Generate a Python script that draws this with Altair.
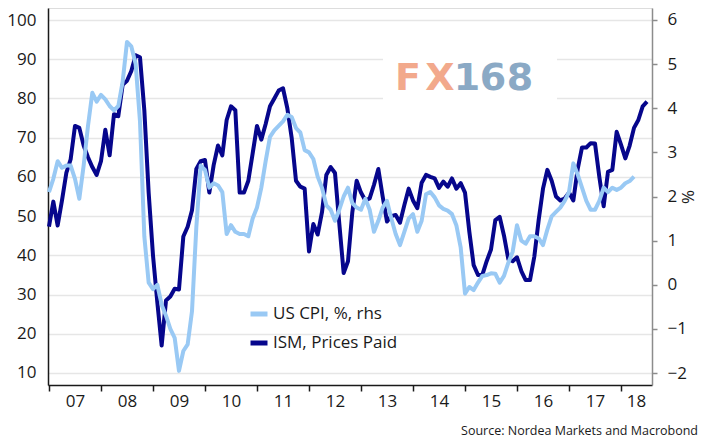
import altair as alt
import pandas as pd

# ---- data (monthly, starting Jan 2007) ----
ism_prices_paid = [
    47.3, 53.7, 47.6, 54.0, 61.0, 64.5, 73.0, 72.5, 68.0, 65.0, 62.5, 60.5,   # 2007
    64.0, 72.0, 65.5, 76.0, 75.5, 83.5, 84.5, 87.0, 91.0, 90.5, 77.0, 56.0,   # 2008
    40.0, 28.0, 17.0, 28.5, 29.5, 31.5, 31.3, 44.8, 47.3, 51.5, 62.0, 64.0,   # 2009
    64.3, 56.0, 63.0, 68.0, 65.5, 74.5, 78.0, 77.0, 56.0, 56.0, 59.0, 66.0,   # 2010
    73.0, 69.5, 73.5, 78.0, 80.0, 82.0, 82.6, 77.5, 70.0, 59.0, 57.5, 57.0,   # 2011
    41.0, 48.0, 45.3, 51.0, 60.5, 62.5, 61.0, 48.0, 35.5, 38.5, 51.0, 59.0,   # 2012
    56.0, 54.0, 54.5, 58.0, 62.0, 55.0, 48.6, 50.0, 50.3, 48.3, 52.8, 57.0,   # 2013
    54.0, 52.0, 58.5, 60.5, 60.0, 59.6, 57.2, 58.8, 57.5, 59.6, 57.0, 58.4,   # 2014
    56.0, 46.0, 37.5, 35.0, 35.0, 38.5, 41.5, 49.0, 49.8, 45.0, 39.0, 38.5,   # 2015
    39.5, 36.0, 33.7, 33.7, 39.7, 49.0, 57.0, 61.8, 59.0, 55.0, 54.0, 54.5,   # 2016
    56.0, 54.0, 62.0, 67.5, 67.5, 68.6, 68.5, 60.0, 52.5, 61.3, 61.8, 71.5,   # 2017
    68.2, 64.7, 68.0, 72.5, 74.5, 78.0, 79.2,                                 # 2018
]
us_cpi = [
    2.1, 2.4, 2.8, 2.65, 2.7, 2.7, 2.4, 1.95, 2.7, 3.6, 4.35, 4.15,           # 2007
    4.3, 4.2, 4.05, 3.95, 4.05, 4.6, 5.5, 5.4, 5.0, 3.7, 1.1, 0.05,           # 2008
    -0.1, 0.0, -0.45, -0.7, -1.0, -1.2, -1.95, -1.5, -1.35, -0.6, 1.3, 2.7,   # 2009
    2.6, 2.2, 2.3, 2.25, 2.1, 1.15, 1.35, 1.2, 1.15, 1.15, 1.1, 1.5,          # 2010
    1.75, 2.2, 2.8, 3.35, 3.5, 3.6, 3.7, 3.85, 3.8, 3.55, 3.45, 3.05,         # 2011
    3.0, 2.85, 2.45, 2.2, 1.8, 1.7, 1.45, 1.7, 2.0, 2.2, 1.85, 1.75,          # 2012
    1.7, 1.95, 1.7, 1.2, 1.45, 1.75, 1.9, 1.5, 1.15, 0.9, 1.2, 1.5,           # 2013
    1.6, 1.2, 1.45, 2.05, 2.1, 1.98, 1.8, 1.72, 1.68, 1.6, 1.35, 0.85,        # 2014
    -0.2, -0.05, -0.12, 0.05, 0.2, 0.22, 0.26, 0.25, 0.05, 0.2, 0.5, 0.75,    # 2015
    1.35, 1.0, 0.93, 1.1, 1.1, 1.05, 0.9, 1.25, 1.55, 1.65, 1.75, 1.9,        # 2016
    2.1, 2.75, 2.5, 2.2, 1.9, 1.7, 1.7, 1.9, 2.2, 2.1, 2.2, 2.15,             # 2017
    2.2, 2.3, 2.35, 2.45,                                                     # 2018
]
series_names = ["US CPI, %, rhs", "ISM, Prices Paid"]
year_ticks = list(range(2007, 2019))
left_ticks = list(range(10, 101, 10))
right_ticks = list(range(-2, 7))
source_text = "Source: Nordea Markets and Macrobond"
watermark_chars = ["F", "X", "1", "6", "8"]
watermark_colors = ["#f2a98c", "#f2a98c", "#8aa9c5", "#8aa9c5", "#8aa9c5"]

LIGHT = "#99c9f4"
DARK = "#06068c"
FONT = "Open Sans"


def month_positions(n):
    return [2007 + i / 12 for i in range(n)]


df = pd.concat([
    pd.DataFrame({"t": month_positions(len(ism_prices_paid)), "v": ism_prices_paid,
                  "series": series_names[1]}),
    pd.DataFrame({"t": month_positions(len(us_cpi)), "v": us_cpi,
                  "series": series_names[0]}),
], ignore_index=True)

color = alt.Color(
    "series:N",
    scale=alt.Scale(domain=series_names, range=[LIGHT, DARK]),
    legend=alt.Legend(
        title=None, orient="none", legendX=200, legendY=295,
        symbolType="stroke", symbolSize=289, symbolStrokeWidth=5,
        labelFontSize=17, labelFont=FONT, labelColor="#1a1a1a",
        labelOffset=3, rowPadding=8, padding=0,
    ),
)

x = alt.X(
    "t:Q",
    scale=alt.Scale(domain=[2006.981, 2018.596], nice=False, zero=False),
    axis=alt.Axis(
        values=year_ticks, title=None, grid=False,
        labelExpr="substring(toString(datum.value), 2)",
        labelOffset={"condition": {"test": "datum.value >= 2018", "value": 15}, "value": 26},
        labelFontSize=17, labelFont=FONT, labelColor="#1a1a1a", labelPadding=2,
        labelFlush=False, labelOverlap=False,
        ticks=True, tickSize=6, tickColor="#1a1a1a", tickWidth=1.5,
        domainColor="#1a1a1a", domainWidth=1.5,
    ),
)

ism_layer = alt.Chart(df).transform_filter(
    alt.datum.series == series_names[1]
).mark_line(strokeWidth=4, strokeJoin="round").encode(
    x=x,
    y=alt.Y(
        "v:Q",
        scale=alt.Scale(domain=[6.94, 103.06], nice=False, zero=False),
        axis=alt.Axis(
            orient="left", values=left_ticks, title=None,
            grid=True, gridColor="#e6e6e6", gridWidth=1.5,
            ticks=False, labelPadding=12,
            labelFontSize=17, labelFont=FONT, labelColor="#1a1a1a",
            domainColor="#1a1a1a", domainWidth=1.5,
        ),
    ),
    color=color,
)

cpi_layer = alt.Chart(df).transform_filter(
    alt.datum.series == series_names[0]
).mark_line(strokeWidth=4, strokeJoin="round").encode(
    x=x,
    y=alt.Y(
        "v:Q",
        scale=alt.Scale(domain=[-2.27, 6.27], nice=False, zero=False),
        axis=alt.Axis(
            orient="right", values=right_ticks, title="%", grid=False,
            ticks=True, tickSize=5, tickColor="#8c8c8c", tickWidth=1.5,
            labelPadding=10, labelFontSize=17, labelFont=FONT, labelColor="#1a1a1a",
            titleFontSize=17, titleFont=FONT, titleFontWeight="normal",
            titleColor="#1a1a1a", titlePadding=-9,
            domainColor="#8c8c8c", domainWidth=1.5,
        ),
    ),
    color=color,
)

# watermark (decoration overlaid on the original picture)
wm_box = alt.Chart(pd.DataFrame({"k": [0]})).mark_rect(color="white").encode(
    x=alt.value(335), x2=alt.value(509), y=alt.value(44), y2=alt.value(96)
)
wm_x_centers = [360, 392, 419, 445, 472]
wm_layers = [
    alt.Chart(pd.DataFrame({"w": [ch]})).mark_text(
        font="DejaVu Sans", fontWeight="bold", fontSize=38, color=col,
        align="center", baseline="middle",
    ).encode(text="w:N", x=alt.value(cx), y=alt.value(71))
    for ch, col, cx in zip(watermark_chars, watermark_colors, wm_x_centers)
]

chart = alt.layer(ism_layer, wm_box, *wm_layers, cpi_layer).resolve_scale(
    y="independent"
).properties(
    width=604, height=377,
    autosize=alt.AutoSizeParams(type="none"),
    padding={"left": 40, "top": 0, "right": 50, "bottom": 54},
    title=alt.TitleParams(
        text=source_text, orient="bottom", anchor="end", frame="group",
        fontSize=12.5, font=FONT, fontWeight="normal", color="#1a1a1a",
        dx=46, offset=16,
    ),
).configure_view(stroke=None).configure(font=FONT)

chart.save("out.html", embed_options={"renderer": "svg", "actions": False})
